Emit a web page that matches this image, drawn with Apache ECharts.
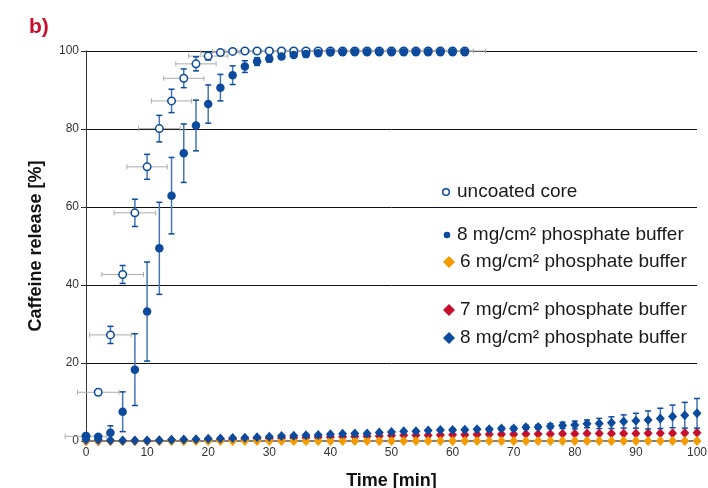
<!DOCTYPE html>
<html><head><meta charset="utf-8">
<script src="https://cdn.jsdelivr.net/npm/echarts@6/dist/echarts.min.js"></script>
<style>html,body{margin:0;padding:0;background:#fff;overflow:hidden}#c{width:708px;height:488px}</style>
</head><body><div id="c"></div>
<script>
// ---- data ----
const xTicks = [0, 10, 20, 30, 40, 50, 60, 70, 80, 90, 100];
const yTicks = [0, 20, 40, 60, 80, 100];
const timeCircles = [0,2,4,6,8,10,12,14,16,18,20,22,24,26,28,30,32,34,36,38,40,42,44,46,48,50,52,54,56,58,60,62];
const uncoated = [1.2,12.5,27.2,42.7,58.5,70.3,80.1,87.2,93.0,96.7,98.7,99.6,99.9,100,100,100,100,100,100,100,100,100,100,100,100,100,100,100,100,100,100,100];
const uncoatedErrY = [0,0.6,2.2,2.3,3.5,3.2,3.4,3.0,2.4,1.8,1.0,0.5,0.3,0.2,0.2,0.2,0.2,0.2,0.2,0.2,0.2,0.2,0.2,0.2,0.2,0.2,0.2,0.2,0.2,0.2,0.2,0.2];
const uncoatedErrX = [3.4,3.4,3.4,3.4,3.4,3.3,3.4,3.3,3.3,3.3,3.2,3.2,3.3,3.3,3.3,3.3,3.3,3.3,3.3,3.3,3.3,3.3,3.3,3.3,3.3,3.3,3.3,3.3,3.3,3.3,3.4,3.4];
const coated8 = [1.3,1.1,2.1,7.5,18.3,33.2,49.4,62.9,73.8,80.9,86.4,90.6,93.8,96.0,97.3,98.0,98.6,99.0,99.2,99.4,99.6,99.7,99.7,99.7,99.7,99.7,99.7,99.7,99.7,99.7,99.7,99.7];
const coated8Err = [0.3,0.5,1.8,5.1,9.2,12.7,11.8,9.8,7.5,6.5,4.9,3.4,2.4,1.5,1.0,0.8,0.6,0.5,0.4,0.3,0.3,0.3,0.3,0.3,0.3,0.3,0.3,0.3,0.3,0.3,0.3,0.3];
const timeDiamonds = [0,2,4,6,8,10,12,14,16,18,20,22,24,26,28,30,32,34,36,38,40,42,44,46,48,50,52,54,56,58,60,62,64,66,68,70,72,74,76,78,80,82,84,86,88,90,92,94,96,98,100];
const buffer6 = [0,0,0,0,0,0,0,0,0,0,0,0,0,0,0,0,0,0,0,0,0,0,0,0,0,0,0,0,0,0,0,0,0,0,0,0,0,0,0,0,0,0,0,0,0,0,0,0,0,0,0];
const buffer7 = [0,0,0,0,0,0,0.05,0.1,0.15,0.2,0.25,0.3,0.4,0.45,0.55,0.65,0.75,0.85,0.9,0.95,1.0,1.1,1.15,1.2,1.3,1.4,1.45,1.5,1.5,1.55,1.6,1.6,1.65,1.7,1.7,1.75,1.8,1.8,1.8,1.85,1.85,1.9,1.9,1.9,1.95,1.95,2.0,2.0,2.0,2.05,2.1];
const buffer8 = [0.3,0.3,0.2,0.1,0.1,0.15,0.2,0.3,0.4,0.45,0.55,0.65,0.75,0.85,0.95,1.1,1.3,1.35,1.5,1.55,1.7,1.85,1.9,1.95,2.15,2.3,2.5,2.5,2.7,2.8,2.85,2.9,3.0,3.0,3.2,3.2,3.5,3.6,3.8,4.0,4.1,4.4,4.5,4.7,5.0,5.2,5.4,5.8,6.3,6.6,7.1];
const buffer8Err = [0.15,0.15,0.15,0.15,0.15,0.15,0.15,0.15,0.15,0.15,0.15,0.15,0.15,0.15,0.15,0.15,0.15,0.15,0.15,0.15,0.15,0.15,0.15,0.15,0.15,0.15,0.15,0.15,0.15,0.15,0.2,0.3,0.3,0.4,0.4,0.5,0.5,0.5,0.6,0.8,1.0,1.0,1.3,1.5,1.7,1.9,2.3,2.6,2.9,3.3,3.8];

const legendItems = [
  {name: 'uncoated core', marker: 'open'},
  {name: '8 mg/cm² phosphate buffer', marker: 'dot'},
  {name: '6 mg/cm² phosphate buffer', marker: 'orange'},
  {name: '7 mg/cm² phosphate buffer', marker: 'red'},
  {name: '8 mg/cm² phosphate buffer', marker: 'blue'}
];

// ---- styles ----
const FONT = '"Liberation Sans", Arial, Helvetica, sans-serif';
const BLUE = '#0b4a9c';
const BLUE_ERR = '#4675b8';
const RED = '#c8102e';
const ORANGE = '#f49b00';
const GRAY_ERR = '#ababab';

const zip = (xs, ys) => xs.map((x, i) => [x, ys[i]]);
const vErrData = (xs, ys, es) => xs.map((x, i) => [x, ys[i] - es[i], ys[i] + es[i]]);
const hErrData = (xs, ys, es) => xs.map((x, i) => [x - es[i], x + es[i], ys[i]]);

function vErr(lineColor, capColor, capW, lw) {
  return function (params, api) {
    const x = api.value(0), lo = api.value(1), hi = api.value(2);
    const a = api.coord([x, lo]), b = api.coord([x, hi]);
    return {type: 'group', children: [
      {type: 'line', shape: {x1: a[0], y1: a[1], x2: b[0], y2: b[1]}, style: {stroke: lineColor, lineWidth: lw}},
      {type: 'line', shape: {x1: a[0] - capW, y1: a[1], x2: a[0] + capW, y2: a[1]}, style: {stroke: capColor, lineWidth: 1.5}},
      {type: 'line', shape: {x1: b[0] - capW, y1: b[1], x2: b[0] + capW, y2: b[1]}, style: {stroke: capColor, lineWidth: 1.5}}
    ]};
  };
}
function hErr(color, capH) {
  return function (params, api) {
    const lo = api.value(0), hi = api.value(1), y = api.value(2);
    const a = api.coord([lo, y]), b = api.coord([hi, y]);
    return {type: 'group', children: [
      {type: 'line', shape: {x1: a[0], y1: a[1], x2: b[0], y2: b[1]}, style: {stroke: color, lineWidth: 1}},
      {type: 'line', shape: {x1: a[0], y1: a[1] - capH, x2: a[0], y2: a[1] + capH}, style: {stroke: color, lineWidth: 1}},
      {type: 'line', shape: {x1: b[0], y1: b[1] - capH, x2: b[0], y2: b[1] + capH}, style: {stroke: color, lineWidth: 1}}
    ]};
  };
}

// legend graphics
const legendPos = [192, 235, 262, 310, 338];
const legendGraphics = [];
legendItems.forEach((it, i) => {
  const y = legendPos[i];
  let tx = 457;
  if (it.marker === 'open') {
    legendGraphics.push({type: 'circle', shape: {cx: 446, cy: y, r: 3.3}, style: {fill: '#fff', stroke: BLUE, lineWidth: 1.5}, z: 100});
  } else if (it.marker === 'dot') {
    legendGraphics.push({type: 'circle', shape: {cx: 447, cy: y, r: 3.3}, style: {fill: BLUE}, z: 100});
  } else {
    const c = it.marker === 'orange' ? ORANGE : (it.marker === 'red' ? RED : BLUE);
    legendGraphics.push({type: 'polygon', shape: {points: [[449, y - 6], [455, y], [449, y + 6], [443, y]]}, style: {fill: c}, z: 100});
    tx = 460;
  }
  legendGraphics.push({type: 'text', x: tx, y: y, style: {text: it.name, font: '19px ' + FONT, fill: '#1a1a1a', verticalAlign: 'middle', align: 'left'}, z: 100});
});
legendGraphics.push({type: 'text', x: 29, y: 27, style: {text: 'b)', font: 'bold 21px ' + FONT, fill: RED, verticalAlign: 'middle', align: 'left'}, z: 100});

const chart = echarts.init(document.getElementById('c'), null, {renderer: 'canvas'});
chart.setOption({
  backgroundColor: '#fff',
  animation: false,
  grid: {left: 86, right: 11, top: 51, bottom: 47, containLabel: false, outerBoundsMode: 'none'},
  xAxis: {
    type: 'value', min: xTicks[0], max: xTicks[xTicks.length - 1], interval: 10,
    axisLine: {show: true, onZero: false, lineStyle: {color: '#808080', width: 2}},
    axisTick: {show: false},
    axisLabel: {fontSize: 12, color: '#333', margin: 6, fontFamily: FONT},
    splitLine: {show: false},
    name: 'Time [min]', nameLocation: 'middle', nameGap: 31,
    nameTextStyle: {fontSize: 18, fontWeight: 'bold', color: '#111', fontFamily: FONT}
  },
  yAxis: {
    type: 'value', min: yTicks[0], max: yTicks[yTicks.length - 1], interval: 20,
    axisLine: {show: true, lineStyle: {color: '#333', width: 1}},
    axisTick: {show: true, length: 5, lineStyle: {color: '#333'}},
    axisLabel: {fontSize: 12, color: '#333', margin: 7, fontFamily: FONT},
    splitLine: {show: true, lineStyle: {color: '#111', width: 1}},
    name: 'Caffeine release [%]', nameLocation: 'middle', nameGap: 41,
    nameTextStyle: {fontSize: 18, fontWeight: 'bold', color: '#111', fontFamily: FONT}
  },
  graphic: legendGraphics,
  series: [
    {type: 'custom', name: 'uncoated x-err', renderItem: hErr(GRAY_ERR, 2.5), data: hErrData(timeCircles, uncoated, uncoatedErrX), encode: {x: [0, 1], y: 2}, clip: false, silent: true, z: 2},
    {type: 'custom', name: 'uncoated y-err', renderItem: vErr(BLUE_ERR, BLUE, 3, 1.5), data: vErrData(timeCircles, uncoated, uncoatedErrY), encode: {x: 0, y: [1, 2]}, silent: true, z: 3},
    {type: 'scatter', name: 'uncoated core', data: zip(timeCircles, uncoated), symbol: 'circle', symbolSize: 7.5,
      itemStyle: {color: '#fff', borderColor: BLUE, borderWidth: 1.5, opacity: 1}, z: 4},
    {type: 'custom', name: 'coated err', renderItem: vErr(BLUE_ERR, BLUE, 3, 1.5), data: vErrData(timeCircles, coated8, coated8Err), encode: {x: 0, y: [1, 2]}, silent: true, z: 5},
    {type: 'scatter', name: '8 mg circles', data: zip(timeCircles, coated8), symbol: 'circle', symbolSize: 8.5,
      itemStyle: {color: BLUE, opacity: 1}, z: 6},
    {type: 'scatter', name: '7 mg', data: zip(timeDiamonds, buffer7), symbol: 'diamond', symbolSize: [9, 10],
      itemStyle: {color: RED, opacity: 1}, z: 7},
    {type: 'scatter', name: '6 mg', data: zip(timeDiamonds, buffer6), symbol: 'diamond', symbolSize: [9, 10],
      itemStyle: {color: ORANGE, opacity: 1}, z: 8},
    {type: 'custom', name: '8 mg diamond err', renderItem: vErr(BLUE_ERR, BLUE, 3, 1.5), data: vErrData(timeDiamonds, buffer8, buffer8Err), encode: {x: 0, y: [1, 2]}, silent: true, z: 9},
    {type: 'scatter', name: '8 mg diamonds', data: zip(timeDiamonds, buffer8), symbol: 'diamond', symbolSize: [9, 10],
      itemStyle: {color: BLUE, opacity: 1}, z: 10}
  ]
});
</script>
</body></html>
